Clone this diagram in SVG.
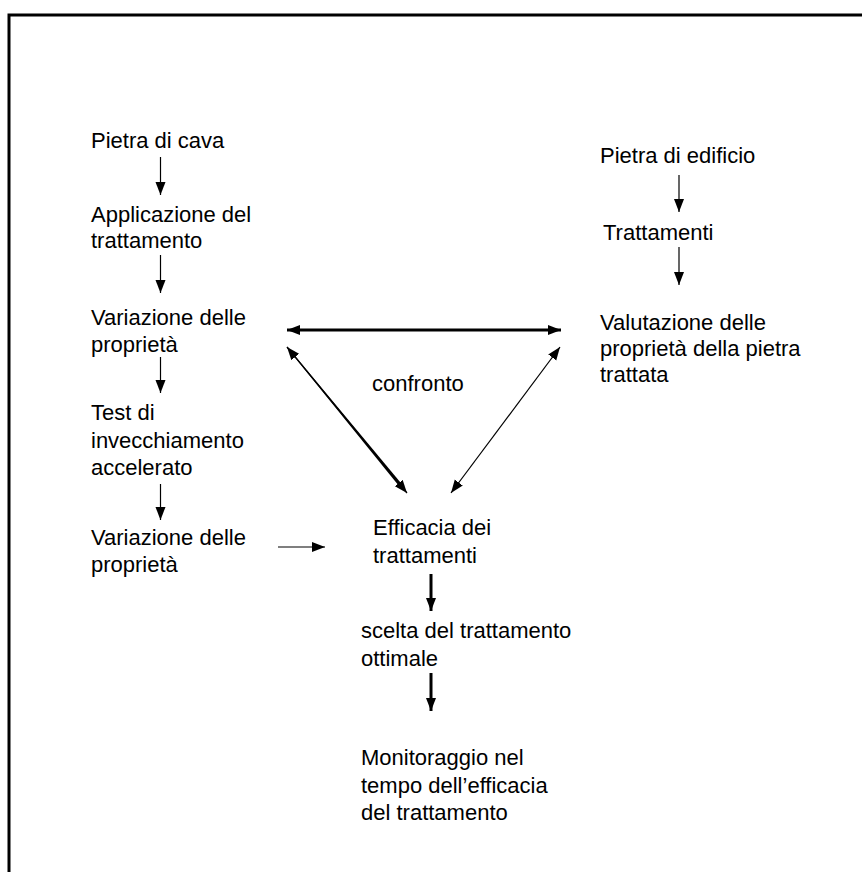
<svg xmlns="http://www.w3.org/2000/svg" width="862" height="872" viewBox="0 0 862 872">
<defs>
<style>
text{font-family:"Liberation Sans",Arial,sans-serif;font-size:22px;fill:#000}
.c{stroke:#000;fill:none}
.t1{stroke-width:1.2}
.t3{stroke-width:3}
</style>
<marker id="ah" markerUnits="userSpaceOnUse" markerWidth="14" markerHeight="12" viewBox="0 0 14 12" refX="13" refY="6" orient="auto-start-reverse"><path d="M0,1 L13,6 L0,11 z" fill="#000"/></marker>
</defs>
<rect width="862" height="872" fill="#fff"/>
<g id="frame"><path d="M9,872 V15 H862" fill="none" stroke="#000" stroke-width="3"/></g>
<g id="n-pietra-cava"><text x="91" y="148">Pietra di cava</text></g>
<g id="n-applicazione"><text x="91" y="222">Applicazione del</text><text x="91" y="248">trattamento</text></g>
<g id="n-variazione1"><text x="91" y="325">Variazione delle</text><text x="91" y="352">proprietà</text></g>
<g id="n-test"><text x="91" y="420">Test di</text><text x="91" y="448">invecchiamento</text><text x="91" y="475">accelerato</text></g>
<g id="n-variazione2"><text x="91" y="545">Variazione delle</text><text x="91" y="572">proprietà</text></g>
<g id="n-pietra-edificio"><text x="600" y="163">Pietra di edificio</text></g>
<g id="n-trattamenti"><text x="603" y="240">Trattamenti</text></g>
<g id="n-valutazione"><text x="600" y="330">Valutazione delle</text><text x="600" y="356">proprietà della pietra</text><text x="600" y="382">trattata</text></g>
<g id="n-confronto"><text x="372" y="391">confronto</text></g>
<g id="n-efficacia"><text x="373" y="535">Efficacia dei</text><text x="373" y="563">trattamenti</text></g>
<g id="n-scelta"><text x="361" y="638">scelta del trattamento</text><text x="361" y="666">ottimale</text></g>
<g id="n-monitoraggio"><text x="361" y="765">Monitoraggio nel</text><text x="361" y="793">tempo dell’efficacia</text><text x="361" y="820">del trattamento</text></g>
<g id="connectors">
<line class="c t1" x1="160.5" y1="157" x2="160.5" y2="195" marker-end="url(#ah)"/>
<line class="c t1" x1="160.5" y1="255" x2="160.5" y2="293" marker-end="url(#ah)"/>
<line class="c t1" x1="160.5" y1="357" x2="160.5" y2="393" marker-end="url(#ah)"/>
<line class="c t1" x1="160.5" y1="484" x2="160.5" y2="520" marker-end="url(#ah)"/>
<line class="c t1" x1="278" y1="547" x2="325" y2="547" marker-end="url(#ah)"/>
<line class="c t1" x1="679" y1="175" x2="679" y2="212" marker-end="url(#ah)"/>
<line class="c t1" x1="679" y1="247" x2="679" y2="285" marker-end="url(#ah)"/>
<line class="c t3" x1="287" y1="330" x2="561" y2="330" marker-start="url(#ah)" marker-end="url(#ah)"/>
<line class="c t1" x1="287" y1="347" x2="407" y2="493" marker-start="url(#ah)" marker-end="url(#ah)"/>
<polygon points="286.6,347.3 287.4,346.7 403.4,485.9 400.6,488.1" fill="#000"/>
<line class="c t1" x1="560" y1="347" x2="451" y2="493" marker-start="url(#ah)" marker-end="url(#ah)"/>
<line class="c t3" x1="431" y1="574" x2="431" y2="611" marker-end="url(#ah)"/>
<line class="c t3" x1="431" y1="673" x2="431" y2="711" marker-end="url(#ah)"/>
</g>
</svg>
